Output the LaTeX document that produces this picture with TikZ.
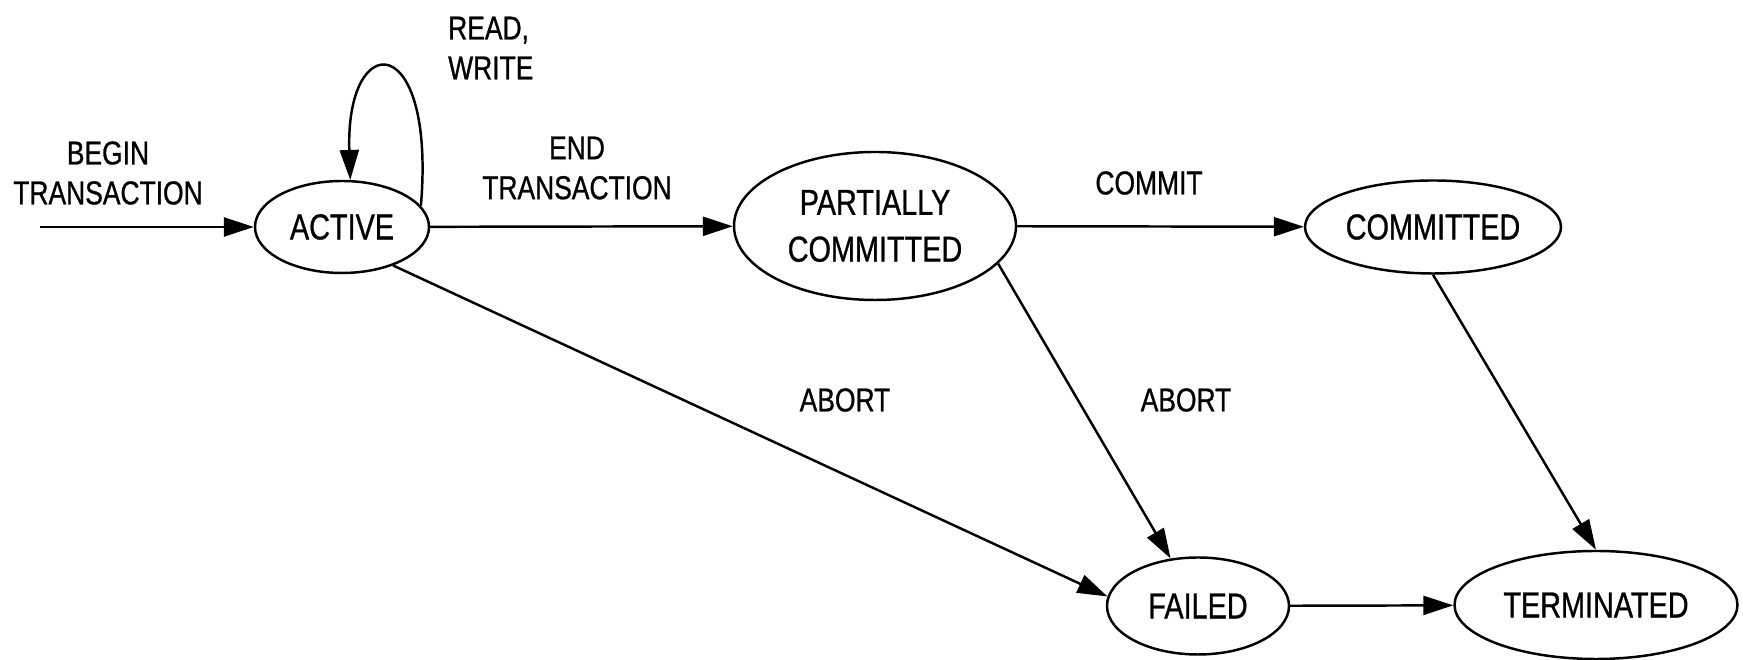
\documentclass[tikz,border=0pt]{standalone}
\usepackage{fontspec}
\setmainfont{Liberation Sans}[FakeStretch=0.8, RawFeature={embolden=0.8}]
\usepackage{tikz}
\usetikzlibrary{%
    arrows.meta,
    positioning,
    shapes.geometric
}

\begin{document}
\begin{tikzpicture}[
    state/.style = {ellipse, draw, line width=1.4pt, inner sep=0pt,
                    align=center, font=\fontsize{20.5}{26.6}\selectfont},
    trans/.style = {align=center, font=\fontsize{18.8}{22.7}\selectfont},
    edge/.style  = {line width=1.4pt, -{Triangle[length=6mm,width=3.8mm]}}
  ]
  \useasboundingbox (0,0) rectangle (34.86,13.2);

  \node[state, minimum width=3.48cm, minimum height=1.84cm]
    (active) at (6.84,8.66) {ACTIVE};
  \node[state, minimum width=5.64cm, minimum height=2.96cm]
    (partial) at (17.5,8.68) {PARTIALLY\\COMMITTED};
  \node[state, minimum width=5.12cm, minimum height=1.86cm]
    (committed) at (28.66,8.66) {COMMITTED};
  \node[state, minimum width=3.64cm, minimum height=1.94cm]
    (failed) at (23.96,1.08) {FAILED};
  \node[state, minimum width=5.66cm, minimum height=2.16cm]
    (terminated) at (31.92,1.10) {TERMINATED};

  \coordinate (start) at (0.8,8.66);

  \draw[edge] (start) -- (active);
  \draw[edge] (active) -- (partial);
  \draw[edge] (partial) -- (committed);
  \draw[edge] (failed) -- (terminated);
  \draw[edge] (active.-37) -- (failed.174);
  \draw[edge] (partial.-17) -- (failed.120);
  \draw[edge] (committed.south) -- (terminated.north);
  \draw[edge] (active.15) .. controls +(0.3,3.55) and +(-0.1,3.05) .. (active.80);

  \node[trans] (begin) at (2.16,9.74) {BEGIN\\TRANSACTION};
  \node[trans, align=left, anchor=west] (rw) at (8.84,12.24) {READ,\\WRITE};
  \node[trans] (endt) at (11.54,9.84) {END\\TRANSACTION};
  \node[trans] (commit) at (22.98,9.54) {COMMIT};
  \node[trans] (abortA) at (16.9,5.2) {ABORT};
  \node[trans] (abortB) at (23.72,5.2) {ABORT};
\end{tikzpicture}
\end{document}
